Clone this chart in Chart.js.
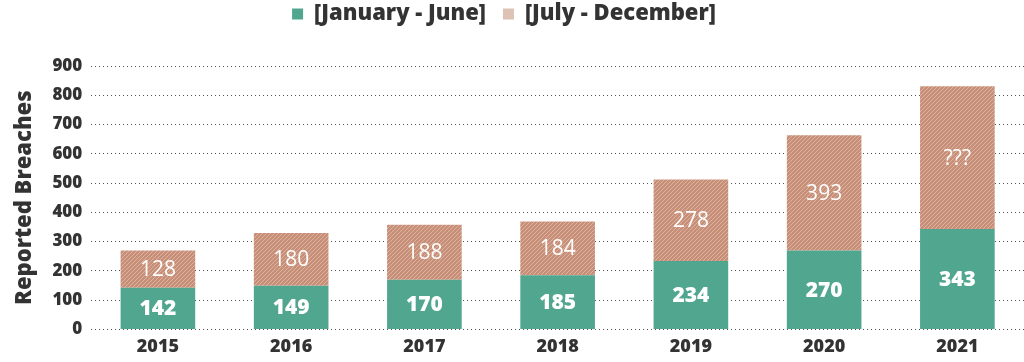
<!DOCTYPE html>
<html>
<head>
<meta charset="utf-8">
<script src="https://cdn.jsdelivr.net/npm/chart.js@4/dist/chart.umd.min.js"></script>
<style>
  html, body { margin: 0; padding: 0; background: #fff; }
  #wrap { width: 1024px; height: 362px; }
</style>
</head>
<body>
<div id="wrap"><canvas id="chart" width="1024" height="362"></canvas></div>
<script>
/* ---------- DATA ---------- */
const years = ["2015", "2016", "2017", "2018", "2019", "2020", "2021"];
const firstHalf = [142, 149, 170, 185, 234, 270, 343];
const secondHalf = [128, 180, 188, 184, 278, 393, 488];
const secondLabels = ["128", "180", "188", "184", "278", "393", "???"];
const yTicks = [0, 100, 200, 300, 400, 500, 600, 700, 800, 900];

/* ---------- STYLE ---------- */
const GREEN = "#50a68e";
const BROWN = "#c78f78";
const BROWN_LIGHT = "#dcb3a1";
const TEXT = "#333333";
const FONT = "'Open Sans', sans-serif";

/* hatch pattern for the second half */
function makeHatch() {
  const c = document.createElement("canvas");
  c.width = 4; c.height = 4;
  const g = c.getContext("2d");
  g.fillStyle = BROWN;
  g.fillRect(0, 0, 4, 4);
  g.strokeStyle = BROWN_LIGHT;
  g.lineWidth = 1;
  g.beginPath();
  g.moveTo(-1, 5); g.lineTo(5, -1);
  g.moveTo(-1, 1); g.lineTo(1, -1);
  g.moveTo(3, 5); g.lineTo(5, 3);
  g.stroke();
  return g.createPattern(c, "repeat");
}

/* ---------- PLUGINS ---------- */
const barLabels = {
  id: "barLabels",
  afterDatasetsDraw(chart) {
    const ctx = chart.ctx;
    ctx.save();
    ctx.textAlign = "center";
    ctx.textBaseline = "middle";
    ctx.fillStyle = "#ffffff";
    chart.data.datasets.forEach((ds, i) => {
      const meta = chart.getDatasetMeta(i);
      meta.data.forEach((bar, j) => {
        const text = i === 0 ? String(firstHalf[j]) : secondLabels[j];
        ctx.font = (i === 0 ? "800 " : "400 ") + "21px " + FONT;
        ctx.fillText(text, bar.x, (bar.y + bar.base) / 2 + 1);
      });
    });
    ctx.restore();
  }
};

// extra room under the legend, and nudge it a bit to the left
const legendGap = {
  id: "legendGap",
  beforeInit(chart) {
    const fit = chart.legend.fit;
    chart.legend.fit = function () {
      fit.bind(chart.legend)();
      this.height += 31;
    };
  },
  afterLayout(chart) {
    chart.legend.left -= 12;
    chart.legend.right -= 12;
  }
};

/* ---------- CHART ---------- */
new Chart(document.getElementById("chart"), {
  type: "bar",
  data: {
    labels: years,
    datasets: [
      {
        label: "[January - June]",
        data: firstHalf,
        backgroundColor: GREEN,
        borderWidth: 0
      },
      {
        label: "[July - December]",
        data: secondHalf,
        backgroundColor: makeHatch(),
        borderWidth: 0
      }
    ]
  },
  options: {
    responsive: false,
    animation: false,
    layout: { padding: { left: 8, right: 0, top: -14, bottom: -3 } },
    datasets: { bar: { categoryPercentage: 1, barPercentage: 0.56 } },
    plugins: {
      legend: {
        position: "top",
        labels: {
          color: TEXT,
          font: { family: FONT, size: 22, weight: "800" },
          boxWidth: 11,
          boxHeight: 11,
          padding: 17,
          generateLabels(chart) {
            return chart.data.datasets.map((ds, i) => ({
              text: ds.label,
              fillStyle: i === 0 ? GREEN : "#dcc3b6",
              strokeStyle: "transparent",
              lineWidth: 0,
              fontColor: TEXT,
              datasetIndex: i
            }));
          }
        }
      },
      tooltip: { enabled: false }
    },
    scales: {
      x: {
        stacked: true,
        grid: { display: false, drawTicks: false },
        border: { display: false },
        ticks: {
          color: TEXT,
          font: { family: FONT, size: 18, weight: "800" },
          padding: 7
        }
      },
      y: {
        stacked: true,
        min: 0,
        max: 900,
        afterBuildTicks(axis) {
          axis.ticks = yTicks.map(v => ({ value: v }));
        },
        border: { display: false, dash: [1, 3] },
        grid: {
          color: "#555555",
          lineWidth: 1,
          drawTicks: false
        },
        ticks: {
          color: TEXT,
          font: { family: FONT, size: 17, weight: "800" },
          padding: 9
        },
        title: {
          display: true,
          text: "Reported Breaches",
          color: TEXT,
          font: { family: FONT, size: 22, weight: "800" },
          padding: { bottom: 5 }
        }
      }
    }
  },
  plugins: [barLabels, legendGap]
});
</script>
</body>
</html>
